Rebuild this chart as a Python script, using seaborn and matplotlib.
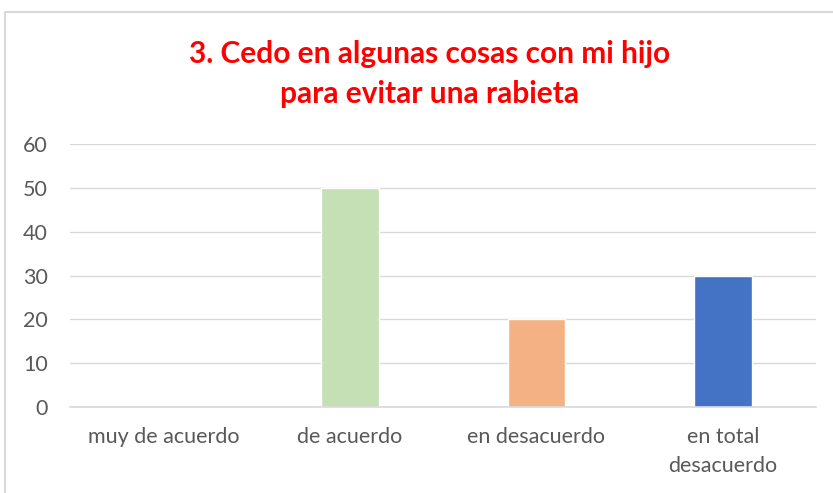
import matplotlib
matplotlib.use("Agg")
import matplotlib.pyplot as plt
from matplotlib.patches import Rectangle
import seaborn as sns
import pandas as pd

# ── Data ─────────────────────────────────────────
categories = ["muy de acuerdo", "de acuerdo", "en desacuerdo", "en total\ndesacuerdo"]
values     = [0, 50, 20, 30]
colors     = ["#5B9BD5", "#C5E0B4", "#F4B183", "#4472C4"]
yticks     = [0, 10, 20, 30, 40, 50, 60]
title      = "3. Cedo en algunas cosas con mi hijo\npara evitar una rabieta"

df = pd.DataFrame({"cat": categories, "val": values})

sns.set_style("white")
plt.rcParams["font.family"] = ["Lato", "DejaVu Sans"]

fig = plt.figure(figsize=(8.33, 4.93), dpi=100)
ax = fig.add_axes([0.084, 0.174, 0.896, 0.534])

sns.barplot(data=df, x="cat", y="val", hue="cat", palette=colors,
            legend=False, width=0.31, ax=ax, saturation=1)

ax.set_ylim(0, 60)
ax.set_xlim(-0.5, 3.5)
ax.set_yticks(yticks)
ax.yaxis.grid(True, color="#D9D9D9", lw=1)
ax.set_axisbelow(True)
for s in ["top", "right", "left"]:
    ax.spines[s].set_visible(False)
ax.spines["bottom"].set_color("#D9D9D9")
ax.spines["bottom"].set_linewidth(1.2)
ax.tick_params(axis="both", length=0, labelsize=15.5, colors="#595959")
ax.tick_params(axis="y", pad=16)
ax.tick_params(axis="x", pad=14)
for lbl in ax.get_xticklabels():
    lbl.set_linespacing(1.6)
ax.set_xlabel("")
ax.set_ylabel("")

fig.text(0.516, 0.85, title, ha="center", va="center", color="#FF0000",
         fontsize=21.5, fontweight="bold", linespacing=1.5)

# chart border
fig.patches.append(Rectangle((5 / 833, -0.1), 1.1, 1.1 - 12 / 493,
                             transform=fig.transFigure, fill=False,
                             edgecolor="#D9D9D9", lw=1.5))

fig.savefig("out.png", dpi=100)
